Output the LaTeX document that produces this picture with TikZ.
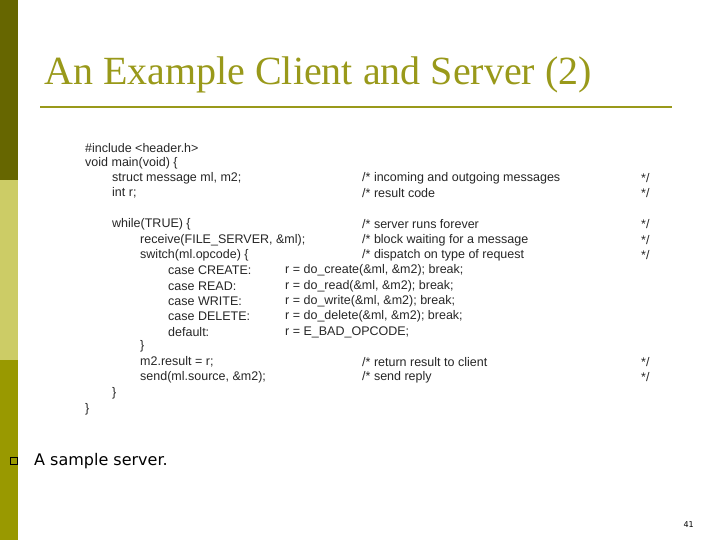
\documentclass[tikz,border=0pt]{standalone}
\usepackage{fontspec}
\setmainfont{Liberation Serif}
\newfontfamily\codefont{Liberation Sans}
\newfontfamily\bodyfont{DejaVu Sans}
\definecolor{olivedark}{HTML}{666600}
\definecolor{olivelight}{HTML}{CCCC66}
\definecolor{olivemid}{HTML}{999900}
\definecolor{titlecol}{HTML}{99991A}
\tikzset{
	code/.style={anchor=west,inner sep=0pt,font=\codefont\fontsize{12.5}{14}\selectfont,text=black!85},
}
\begin{document}
\begin{tikzpicture}[x=1pt,y=-1pt]
	\useasboundingbox (0,0) rectangle (720,540);
	\fill[olivedark] (0,0) rectangle (18,180);
	\fill[olivelight] (0,180) rectangle (18,360);
	\fill[olivemid] (0,360) rectangle (18,540);
	\node (title) [anchor=west,inner sep=0pt,text=titlecol,font=\fontsize{40}{44}\selectfont] at (44,75) {An Example Client and Server (2)};
	\draw[titlecol,line width=2pt] (40,107) -- (672,107);
	% code lines
	\node (l1) [code] at (85,148) {\#include <header.h>};
	\node (l2) [code] at (85,163) {void main(void) \{};
	\node (l3) [code] at (112,178) {struct message ml, m2;};
	\node (l4) [code] at (112,193) {int r;};
	\node (l5) [code] at (112,224) {while(TRUE) \{};
	\node (l6) [code] at (140,240) {receive(FILE\_SERVER, \&ml);};
	\node (l7) [code] at (140,255) {switch(ml.opcode) \{};
	\node (l8) [code] at (168,270) {case CREATE:};
	\node (l9) [code] at (168,286) {case READ:};
	\node (l10) [code] at (168,301) {case WRITE:};
	\node (l11) [code] at (168,316) {case DELETE:};
	\node (l12) [code] at (168,332) {default:};
	\node (r8) [code] at (285,270) {r = do\_create(\&ml, \&m2); break;};
	\node (r9) [code] at (285,286) {r = do\_read(\&ml, \&m2); break;};
	\node (r10) [code] at (285,301) {r = do\_write(\&ml, \&m2); break;};
	\node (r11) [code] at (285,316) {r = do\_delete(\&ml, \&m2); break;};
	\node (r12) [code] at (285,332) {r = E\_BAD\_OPCODE;};
	\node (l13) [code] at (140,346) {\}};
	\node (l14) [code] at (140,362) {m2.result = r;};
	\node (l15) [code] at (140,377) {send(ml.source, \&m2);};
	\node (l16) [code] at (112,393) {\}};
	\node (l17) [code] at (85,409) {\}};
	% comments
	\node (c3) [code] at (362,178) {/* incoming and outgoing messages};
	\node (c4) [code] at (362,193) {/* result code};
	\node (c5) [code] at (362,224) {/* server runs forever};
	\node (c6) [code] at (362,240) {/* block waiting for a message};
	\node (c7) [code] at (362,255) {/* dispatch on type of request};
	\node (c14) [code] at (362,362) {/* return result to client};
	\node (c15) [code] at (362,377) {/* send reply};
	\foreach \yy in {178,193,224,240,255,362,377} {
		\node [code] at (641,\yy) {*/};
	}
	\node (box) [draw,minimum size=7pt,inner sep=0pt,line width=0.6pt] at (14,461) {};
	\node (caption) [anchor=west,inner sep=0pt,font=\bodyfont\fontsize{16}{18}\selectfont] at (34,461) {A sample server.};
	\node (page) [anchor=east,inner sep=0pt,font=\bodyfont\fontsize{8}{10}\selectfont] at (694,525) {41};
\end{tikzpicture}
\end{document}
